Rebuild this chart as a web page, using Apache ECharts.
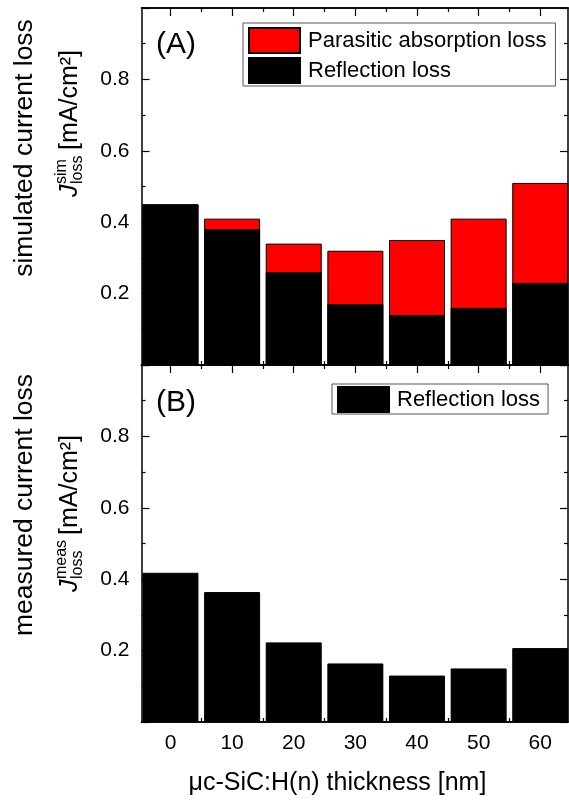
<!DOCTYPE html>
<html>
<head>
<meta charset="utf-8">
<script src="https://cdn.jsdelivr.net/npm/echarts@6/dist/echarts.min.js"></script>
<style>
html, body { margin: 0; padding: 0; background: #fff; }
#chart { width: 569px; height: 800px; }
</style>
</head>
<body>
<div id="chart"></div>
<script>
// thickness of the uc-SiC:H(n) layer [nm]
const thickness = [0, 10, 20, 30, 40, 50, 60];
// (A) simulated losses [mA/cm2]
const simReflection = [0.45, 0.38, 0.26, 0.17, 0.14, 0.16, 0.23];
const simParasitic = [0, 0.03, 0.08, 0.15, 0.21, 0.25, 0.28];
// (B) measured reflection loss [mA/cm2]
const measReflection = [0.418, 0.364, 0.223, 0.164, 0.130, 0.150, 0.207];
const xMajor = [0, 10, 20, 30, 40, 50, 60];
const xMinor = [5, 15, 25, 35, 45, 55];

const FONT = '"Liberation Sans", Arial, sans-serif';
let chartDom = document.getElementById('chart');
let myChart = echarts.init(chartDom);

function pairs(ys) {
  return thickness.map((x, i) => [x, ys[i]]);
}

// red bar top = reflection + parasitic; the black bar is drawn over it
const simTotal = simReflection.map((v, i) => +(v + simParasitic[i]).toFixed(3));

// one x axis = one edge of a panel, major or minor ticks
function xAx(grid, pos, values, len, labels) {
  return {
    type: 'value', gridIndex: grid, position: pos,
    min: -4.7, max: 64.5,
    axisLine: { show: true, onZero: false, lineStyle: { color: '#000', width: 1.5 } },
    axisTick: { show: true, inside: true, length: len, customValues: values, lineStyle: { color: '#000', width: 1.2 } },
    axisLabel: labels
      ? { show: true, customValues: xMajor, margin: 11, color: '#000', fontSize: 21, fontFamily: FONT }
      : { show: false },
    splitLine: { show: false }
  };
}

function yAx(grid, pos, labels) {
  return {
    type: 'value', gridIndex: grid, position: pos,
    min: 0, max: 1, interval: 0.2,
    axisLine: { show: true, onZero: false, lineStyle: { color: '#000', width: 1.5 } },
    axisTick: { show: true, inside: true, length: 8, lineStyle: { color: '#000', width: 1.2 } },
    minorTick: { show: true, splitNumber: 2, length: 4, lineStyle: { color: '#000', width: 1.2 } },
    axisLabel: labels ? {
      show: true, margin: 12, color: '#000', fontSize: 21, fontFamily: FONT,
      formatter: function (v) { return (v > 0.01 && v < 0.99) ? v.toFixed(1) : ''; }
    } : { show: false },
    splitLine: { show: false }
  };
}

const legendBase = {
  orient: 'vertical', icon: 'rect',
  itemWidth: 51, itemHeight: 25, itemGap: 3,
  padding: [4, 9, 2, 5],
  borderColor: '#555', borderWidth: 1,
  selectedMode: false,
  textStyle: { color: '#000', fontSize: 22, fontFamily: FONT, padding: [0, 0, 0, 3] }
};

const barStyle = { borderColor: '#000', borderWidth: 1 };

function yTitle(x, yMid, yStart, line1, sup) {
  return [
    {
      type: 'text', x: x, y: yMid, rotation: Math.PI / 2,
      style: { text: line1, fontSize: 26.5, fontFamily: FONT, fill: '#000', align: 'center', verticalAlign: 'middle' }
    },
    {
      type: 'group', x: x + 45, y: yStart, rotation: Math.PI / 2,
      children: [
        { type: 'text', x: 0, y: 0, style: { text: 'J', fontSize: 25, fontStyle: 'italic', fontFamily: FONT, fill: '#000', align: 'left', verticalAlign: 'middle' } },
        { type: 'text', x: 13, y: -8, style: { text: sup, fontSize: 16, fontFamily: FONT, fill: '#000', align: 'left', verticalAlign: 'middle' } },
        { type: 'text', x: 13, y: 8, style: { text: 'loss', fontSize: 16, fontFamily: FONT, fill: '#000', align: 'left', verticalAlign: 'middle' } },
        { type: 'text', x: 13 + (sup === 'meas' ? 44 : 34), y: 0, style: { text: '[mA/cm²]', fontSize: 25, fontFamily: FONT, fill: '#000', align: 'left', verticalAlign: 'middle' } }
      ]
    }
  ];
}

let option = {
  animation: false,
  backgroundColor: '#fff',
  grid: [
    { left: 141.5, right: 1, top: 8, height: 357 },
    { left: 141.5, right: 1, top: 365, height: 357 }
  ],
  xAxis: [
    xAx(0, 'bottom', xMajor, 8, false),
    xAx(0, 'top', xMajor, 8, false),
    xAx(0, 'bottom', xMinor, 4, false),
    xAx(0, 'top', xMinor, 4, false),
    xAx(1, 'bottom', xMajor, 8, true),
    xAx(1, 'top', xMajor, 8, false),
    xAx(1, 'bottom', xMinor, 4, false),
    xAx(1, 'top', xMinor, 4, false)
  ],
  yAxis: [
    yAx(0, 'left', true),
    yAx(0, 'right', false),
    yAx(1, 'left', true),
    yAx(1, 'right', false)
  ],
  legend: [
    Object.assign({}, legendBase, { data: ['Parasitic absorption loss', 'Reflection loss'], left: 243, top: 23 }),
    Object.assign({}, legendBase, { data: ['Reflection loss'], left: 332, top: 384, padding: [2, 8, 1, 5] })
  ],
  series: [
    {
      name: 'Parasitic absorption loss', type: 'bar', xAxisIndex: 0, yAxisIndex: 0,
      barWidth: 56, barGap: '-100%', data: pairs(simTotal),
      itemStyle: Object.assign({ color: '#ff0000' }, barStyle)
    },
    {
      name: 'Reflection loss', type: 'bar', xAxisIndex: 0, yAxisIndex: 0,
      barWidth: 56, barGap: '-100%', data: pairs(simReflection),
      itemStyle: Object.assign({ color: '#000' }, barStyle)
    },
    {
      name: 'Reflection loss', type: 'bar', xAxisIndex: 4, yAxisIndex: 2,
      barWidth: 56, data: pairs(measReflection),
      itemStyle: Object.assign({ color: '#000' }, barStyle)
    }
  ],
  graphic: [
    { type: 'text', left: 156, top: 30, style: { text: '(A)', fontSize: 30, fontFamily: FONT, fill: '#000' } },
    { type: 'text', left: 156, top: 388, style: { text: '(B)', fontSize: 30, fontFamily: FONT, fill: '#000' } },
    {
      type: 'text', x: 337.5, y: 783,
      style: { text: 'μc-SiC:H(n) thickness [nm]', fontSize: 25, fontFamily: FONT, fill: '#000', align: 'center', verticalAlign: 'middle' }
    }
  ].concat(yTitle(25, 148, 197, 'simulated current loss', 'sim'))
   .concat(yTitle(25, 505, 592, 'measured current loss', 'meas'))
};

myChart.setOption(option, true);
</script>
</body>
</html>
